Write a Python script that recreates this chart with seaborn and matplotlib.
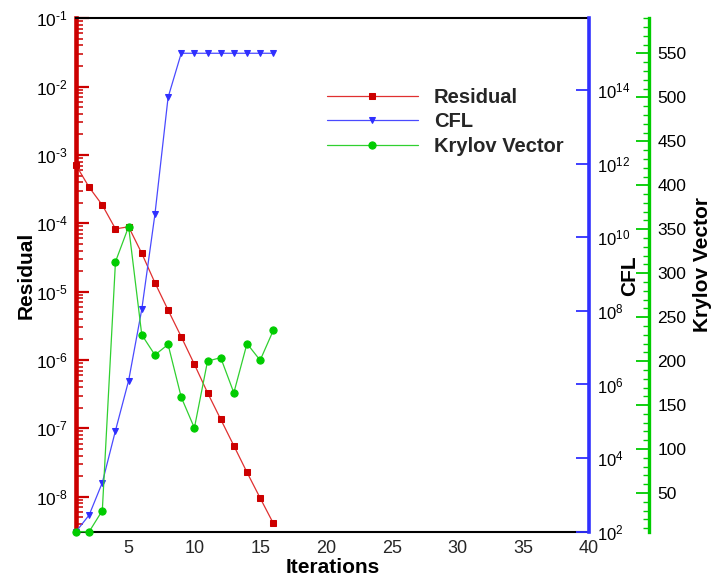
import numpy as np
import pandas as pd
import matplotlib
matplotlib.use("Agg")
import matplotlib.pyplot as plt
import matplotlib.ticker as mticker
import seaborn as sns

# ---- data ----
iterations = list(range(1, 17))
residual = [7.1e-4, 3.37e-4, 1.85e-4, 8.3e-5, 8.9e-5, 3.64e-5, 1.35e-5, 5.39e-6,
            2.19e-6, 8.65e-7, 3.32e-7, 1.36e-7, 5.57e-8, 2.27e-8, 9.57e-9, 4.08e-9]
cfl = [1.0e2, 2.84e2, 2.15e3, 5.56e4, 1.27e6, 1.1e8, 4.2e10, 6.3e13,
       1e15, 1e15, 1e15, 1e15, 1e15, 1e15, 1e15, 1e15]
krylov = [6, 6, 30, 313, 353, 230, 207, 219, 159, 124, 200, 204, 164, 220, 201, 235]
series_labels = ["Residual", "CFL", "Krylov Vector"]
x_ticks = [5, 10, 15, 20, 25, 30, 35, 40]

df = pd.DataFrame({"Iterations": iterations, "Residual": residual,
                   "CFL": cfl, "Krylov": krylov})

sns.set_style("white")
plt.rcParams["font.family"] = ["Liberation Sans", "DejaVu Sans"]
plt.rcParams["mathtext.fontset"] = "custom"
plt.rcParams["mathtext.rm"] = "Liberation Sans"
plt.rcParams["mathtext.it"] = "Liberation Sans:italic"
plt.rcParams["mathtext.bf"] = "Liberation Sans:bold"
plt.rcParams["axes.unicode_minus"] = False

W, H = 716, 584
fig = plt.figure(figsize=(W / 100, H / 100), dpi=100)
ax = fig.add_axes([76 / W, 52.3 / H, 513 / W, 513.4 / H])
ax2 = ax.twinx()
ax3 = ax.twinx()
ax3.spines["right"].set_position(("axes", (649 - 76) / 513))

RED, RED_L = "#cc0000", "#e03030"
BLUE, BLUE_L = "#3030ff", "#4a4aff"
GREEN, GREEN_L = "#00cc00", "#30d030"

sns.lineplot(data=df, x="Iterations", y="Residual", ax=ax, color=RED_L, lw=0.9,
             marker="s", markersize=4.8, markerfacecolor=RED, markeredgecolor=RED,
             label=series_labels[0], legend=False, clip_on=False)
sns.lineplot(data=df, x="Iterations", y="CFL", ax=ax2, color=BLUE_L, lw=0.9,
             marker="v", markersize=4.6, markerfacecolor=BLUE, markeredgecolor=BLUE,
             label=series_labels[1], legend=False, clip_on=False)
sns.lineplot(data=df, x="Iterations", y="Krylov", ax=ax3, color=GREEN_L, lw=0.9,
             marker="o", markersize=5.2, markerfacecolor=GREEN, markeredgecolor=GREEN,
             label=series_labels[2], legend=False, clip_on=False)

# axes ranges
ax.set_xlim(1, 40)
ax.set_yscale("log")
ax.set_ylim(10 ** -8.512, 1e-1)
ax2.set_yscale("log")
ax2.set_ylim(1e2, 10 ** 15.95)
ax3.set_ylim(6, 590)

for a in (ax, ax2, ax3):
    a.set_xlabel("")
    a.set_ylabel("")
    a.set_facecolor("none")
    a.xaxis.offsetText.set_visible(False)
    a.yaxis.offsetText.set_visible(False)

# spines
ax.spines["right"].set_visible(False)
ax.spines["left"].set_color(RED)
ax.spines["left"].set_linewidth(3.3)
ax.spines["top"].set_color("black")
ax.spines["top"].set_linewidth(1.5)
ax.spines["bottom"].set_color("black")
ax.spines["bottom"].set_linewidth(1.5)
for a in (ax2, ax3):
    for s in ("left", "top", "bottom"):
        a.spines[s].set_visible(False)
ax2.spines["right"].set_color(BLUE)
ax2.spines["right"].set_linewidth(2.6)
ax3.spines["right"].set_color(GREEN)
ax3.spines["right"].set_linewidth(2.4)


def pow10_label(v, p):
    e = int(round(np.log10(v)))
    if e < 0:
        return r"$\mathdefault{10^{\text{-}%d}}$" % (-e)
    return r"$\mathdefault{10^{%d}}$" % e


def in_view(locator, lo, hi):
    """Keep only the locator's ticks that fall inside the axis range."""
    return mticker.FixedLocator([t for t in locator.tick_values(lo, hi)
                                 if lo * (1 - 1e-9) <= t <= hi * (1 + 1e-9)])


# x ticks
ax.xaxis.set_major_locator(mticker.FixedLocator(x_ticks))
ax.xaxis.set_minor_locator(mticker.MultipleLocator(1))
ax.tick_params(axis="x", which="major", direction="in", length=8.5, width=1.3,
               color="black", labelsize=13, pad=6, top=False)
ax.tick_params(axis="x", which="minor", direction="in", length=4.5, width=1.1,
               color="black", top=False)

# left (residual) ticks
lo, hi = ax.get_ylim()
ax.yaxis.set_major_locator(in_view(mticker.LogLocator(base=10, numticks=20), lo, hi))
ax.yaxis.set_minor_locator(in_view(
    mticker.LogLocator(base=10, subs=np.arange(2, 10), numticks=20), lo, hi))
ax.yaxis.set_major_formatter(mticker.FuncFormatter(pow10_label))
ax.yaxis.set_minor_formatter(mticker.NullFormatter())
ax.tick_params(axis="y", which="major", direction="in", length=9, width=1.6,
               color=RED, labelcolor="black", labelsize=12.5, pad=6, right=False)
ax.tick_params(axis="y", which="minor", direction="in", length=5, width=1.1,
               color=RED, right=False)

# CFL ticks
lo2, hi2 = ax2.get_ylim()
ax2.yaxis.set_major_locator(in_view(mticker.LogLocator(base=100, numticks=20), lo2, hi2))
ax2.yaxis.set_minor_locator(mticker.NullLocator())
ax2.yaxis.set_major_formatter(mticker.FuncFormatter(pow10_label))
ax2.tick_params(axis="y", which="major", direction="in", length=9.5, width=1.3,
                color=BLUE, labelcolor="black", labelsize=12, pad=6)

# Krylov ticks
lo3, hi3 = ax3.get_ylim()
ax3.yaxis.set_major_locator(in_view(mticker.MultipleLocator(50), lo3, hi3))
ax3.yaxis.set_minor_locator(in_view(mticker.MultipleLocator(10), lo3, hi3))
ax3.tick_params(axis="y", which="major", direction="in", length=9.5, width=1.3,
                color=GREEN, labelcolor="black", labelsize=12.5, pad=6)
ax3.tick_params(axis="y", which="minor", direction="in", length=4.5, width=1.0,
                color=GREEN)

# axis titles (pixel positions from reference)
def fx(px):
    return px / W

def fy(py):
    return 1 - py / H

lab = dict(fontsize=15, fontweight="bold", color="black")
fig.text(fx(333), fy(573.3), "Iterations", ha="center", va="baseline", **lab)
fig.text(fx(32), fy(275), "Residual", rotation=90, rotation_mode="anchor",
         ha="center", va="baseline", **lab)
fig.text(fx(635), fy(275.5), "CFL", rotation=90, rotation_mode="anchor",
         ha="center", va="baseline", **lab)
fig.text(fx(708), fy(265), "Krylov Vector", rotation=90, rotation_mode="anchor",
         ha="center", va="baseline", **lab)

# legend
handles = [ax.lines[0], ax2.lines[0], ax3.lines[0]]
leg = ax3.legend(handles, series_labels, loc="center left",
                 bbox_to_anchor=(fx(327), fy(121.7)), bbox_transform=fig.transFigure,
                 frameon=False, borderpad=0, borderaxespad=0, handlelength=4.5,
                 handletextpad=0.8, labelspacing=0.27, numpoints=1,
                 prop={"size": 14.5, "weight": "bold"})

fig.savefig("out.png", dpi=100)
